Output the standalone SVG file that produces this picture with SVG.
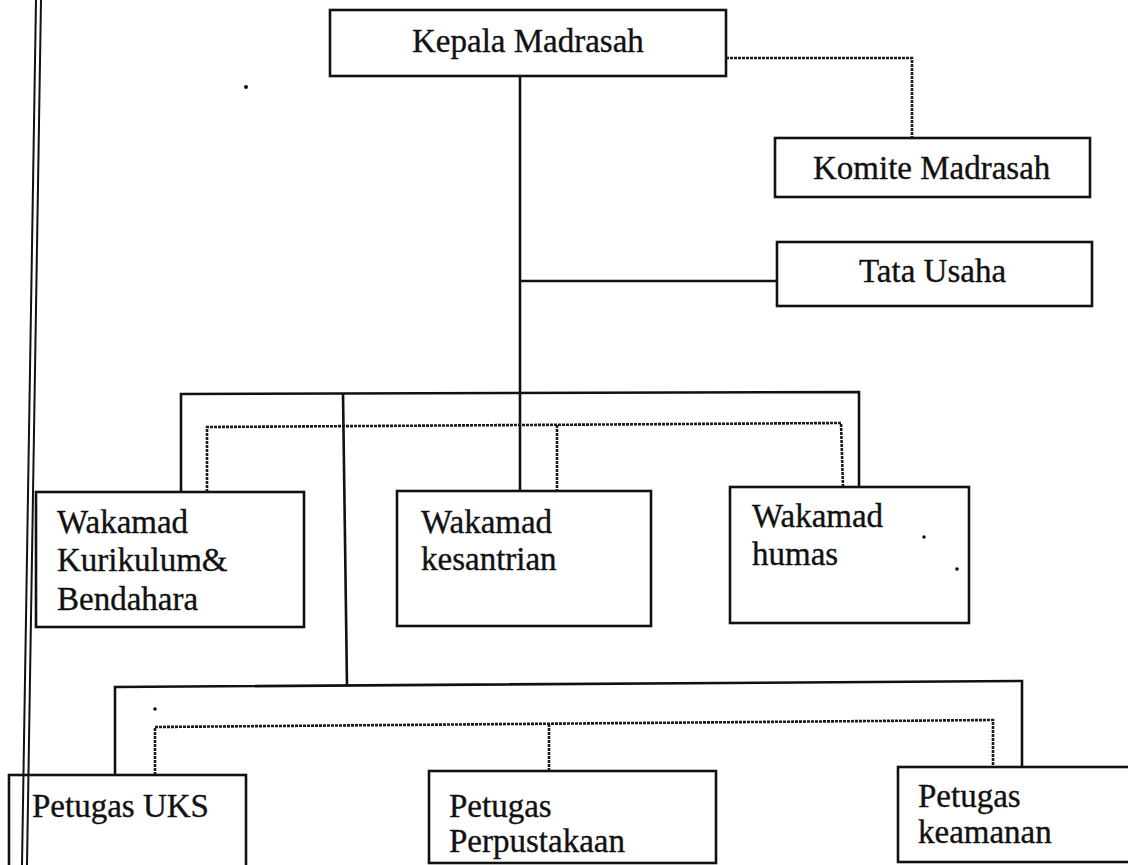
<svg xmlns="http://www.w3.org/2000/svg" width="1128" height="865" viewBox="0 0 1128 865">
<style>
.box{fill:#fff;stroke:#111;stroke-width:2.6}
.t{font-family:"Liberation Serif","Times New Roman",serif;font-size:33px;fill:#111;stroke:#111;stroke-width:0.35}
.solid{fill:none;stroke:#111;stroke-width:2.6}
.dot{fill:none;stroke:#1a1a1a;stroke-width:2.6;stroke-dasharray:3 1}
.edge{stroke:#111;stroke-width:2}
</style>
<rect width="1128" height="865" fill="#fff"/>
<g id="connectors">
<path class="solid" d="M520 76 L520 491"/>
<path class="solid" d="M520 281 L777 281"/>
<path class="solid" d="M181 492 L181 394 L859 392 L859 487"/>
<path class="solid" d="M343 393 L347 686"/>
<path class="solid" d="M115 775 L115 687 L1022 681 L1022 767"/>
<path class="dot" d="M726 58 L912 58 L912 138"/>
<path class="dot" d="M207 492 L207 427 L841 423 L843 487"/>
<path class="dot" d="M557 425 L557 491"/>
<path class="dot" d="M155 775 L155 727 L993 720 L993 767"/>
<path class="dot" d="M549 724 L549 771"/>
</g>
<g id="kepala">
<rect class="box" x="330" y="10" width="396" height="66"/>
<text class="t" x="412" y="52">Kepala Madrasah</text>
</g>
<g id="komite">
<rect class="box" x="775" y="138" width="315" height="59"/>
<text class="t" x="813" y="179">Komite Madrasah</text>
</g>
<g id="tata-usaha">
<rect class="box" x="777" y="242" width="315" height="64"/>
<text class="t" x="859" y="282">Tata Usaha</text>
</g>
<g id="wakamad-kurikulum">
<rect class="box" x="36" y="492" width="268" height="135"/>
<text class="t" x="57" y="533">Wakamad</text>
<text class="t" x="57" y="571">Kurikulum&amp;</text>
<text class="t" x="57" y="610">Bendahara</text>
</g>
<g id="wakamad-kesantrian">
<rect class="box" x="397" y="491" width="254" height="135"/>
<text class="t" x="421" y="533">Wakamad</text>
<text class="t" x="421" y="570">kesantrian</text>
</g>
<g id="wakamad-humas">
<rect class="box" x="730" y="487" width="239" height="136"/>
<text class="t" x="752" y="527">Wakamad</text>
<text class="t" x="752" y="565">humas</text>
</g>
<g id="petugas-uks">
<rect class="box" x="9" y="775" width="237" height="100"/>
<text class="t" x="32" y="817">Petugas UKS</text>
</g>
<g id="petugas-perpustakaan">
<rect class="box" x="429" y="771" width="287" height="92"/>
<text class="t" x="449" y="817">Petugas</text>
<text class="t" x="449" y="852">Perpustakaan</text>
</g>
<g id="petugas-keamanan">
<rect class="box" x="898" y="767" width="240" height="95"/>
<text class="t" x="918" y="807">Petugas</text>
<text class="t" x="918" y="843">keamanan</text>
</g>
<g id="margin">
<line class="edge" x1="36" y1="0" x2="22" y2="865"/>
<line class="edge" x1="41" y1="0" x2="27" y2="865"/>
</g>
<g id="specks" fill="#111">
<circle cx="246" cy="87" r="2"/>
<circle cx="155" cy="709" r="1.8"/>
<circle cx="924" cy="537" r="1.8"/>
<circle cx="957" cy="569" r="1.8"/>
</g>
</svg>
